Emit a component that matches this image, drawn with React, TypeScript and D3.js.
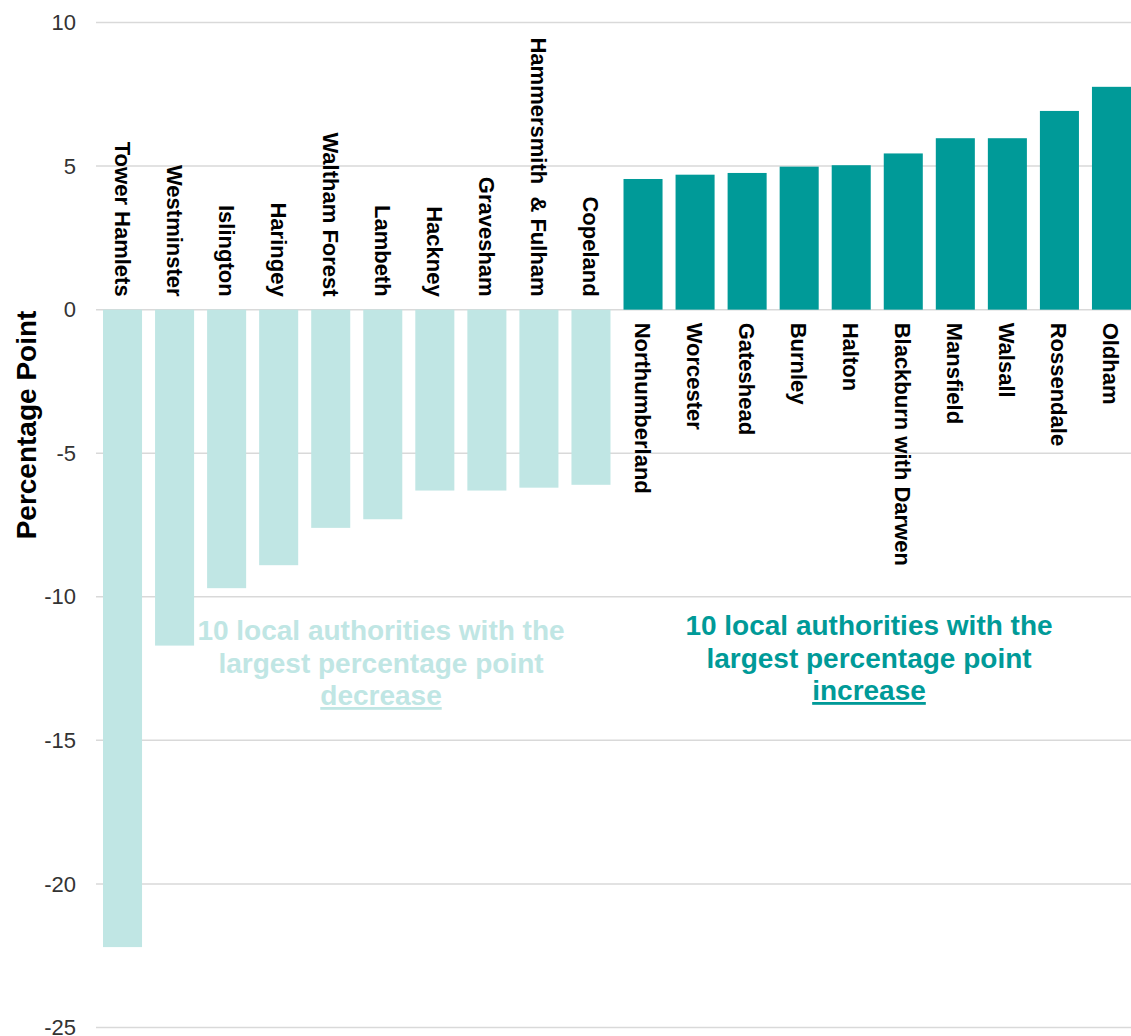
import React from "react";
import * as d3 from "d3";

const categories = [
  "Tower Hamlets",
  "Westminster",
  "Islington",
  "Haringey",
  "Waltham Forest",
  "Lambeth",
  "Hackney",
  "Gravesham",
  "Hammersmith  & Fulham",
  "Copeland",
  "Northumberland",
  "Worcester",
  "Gateshead",
  "Burnley",
  "Halton",
  "Blackburn with Darwen",
  "Mansfield",
  "Walsall",
  "Rossendale",
  "Oldham",
];

const values = [
  -22.2, -11.7, -9.7, -8.9, -7.6, -7.3, -6.3, -6.3, -6.2, -6.1,
  4.55, 4.7, 4.76, 4.98, 5.03, 5.44, 5.97, 5.97, 6.92, 7.76,
];

const yTicks = [10, 5, 0, -5, -10, -15, -20, -25];

const decreaseLines = ["10 local authorities with the", "largest percentage point", "decrease"];
const increaseLines = ["10 local authorities with the", "largest percentage point", "increase"];

const width = 1131;
const height = 1036;
const teal = "#009a98";
const lightTeal = "#c0e6e4";
const font = "'Liberation Sans', Arial, sans-serif";

const App = () => {
  const x = d3
    .scaleBand()
    .domain(categories)
    .range([96.5, 1137.5])
    .paddingInner(0.25)
    .paddingOuter(0.125);

  const y = d3.scaleLinear().domain([-25, 10]).range([1027.5, 22.5]);
  const y0 = y(0);

  // three-line note, last line underlined
  const annotation = (lines: string[], cx: number, top: number, color: string) => (
    <text
      x={cx}
      y={top}
      textAnchor="middle"
      fontFamily={font}
      fontWeight="bold"
      fontSize={28}
      fill={color}
    >
      {lines.map((l, i) => (
        <tspan
          key={i}
          x={cx}
          dy={i === 0 ? 0 : 32.5}
          style={i === lines.length - 1 ? { textDecoration: "underline" } : undefined}
        >
          {l}
        </tspan>
      ))}
    </text>
  );

  return (
    <div style={{ position: "absolute", left: 0, top: 0 }}>
      <svg width={width} height={height} style={{ display: "block", background: "#fff" }}>
        {/* gridlines */}
        {yTicks.map((t) => (
          <line
            key={t}
            x1={96}
            x2={width}
            y1={y(t)}
            y2={y(t)}
            stroke="#d9d9d9"
            strokeWidth={1.5}
          />
        ))}

        {/* tick labels */}
        {yTicks.map((t) => (
          <text
            key={t}
            x={76}
            y={y(t)}
            dy="0.35em"
            textAnchor="end"
            fontFamily={font}
            fontSize={22}
            fill="#333"
          >
            {t}
          </text>
        ))}

        {/* bars */}
        {categories.map((c, i) => {
          const v = values[i];
          return (
            <rect
              key={c}
              x={x(c)}
              width={x.bandwidth()}
              y={v < 0 ? y0 : y(v)}
              height={Math.abs(y(v) - y0)}
              fill={v < 0 ? lightTeal : teal}
            />
          );
        })}

        {/* category labels */}
        {categories.map((c, i) => {
          const v = values[i];
          const cx = (x(c) ?? 0) + x.bandwidth() / 2;
          const ly = v < 0 ? y0 - 13 : y0 + 13;
          return (
            <text
              key={c}
              transform={`translate(${cx - 8},${ly}) rotate(90)`}
              textAnchor={v < 0 ? "end" : "start"}
              fontFamily={font}
              fontWeight="bold"
              fontSize={22}
              fill="#000"
              style={{ whiteSpace: "pre" }}
            >
              {c}
            </text>
          );
        })}

        {/* y axis title */}
        <text
          transform={`translate(36,425) rotate(-90)`}
          textAnchor="middle"
          fontFamily={font}
          fontWeight="bold"
          fontSize={28}
          fill="#000"
        >
          Percentage Point
        </text>

        {annotation(decreaseLines, 381, 640, lightTeal)}
        {annotation(increaseLines, 869, 635, teal)}
      </svg>
    </div>
  );
};

export default App;
